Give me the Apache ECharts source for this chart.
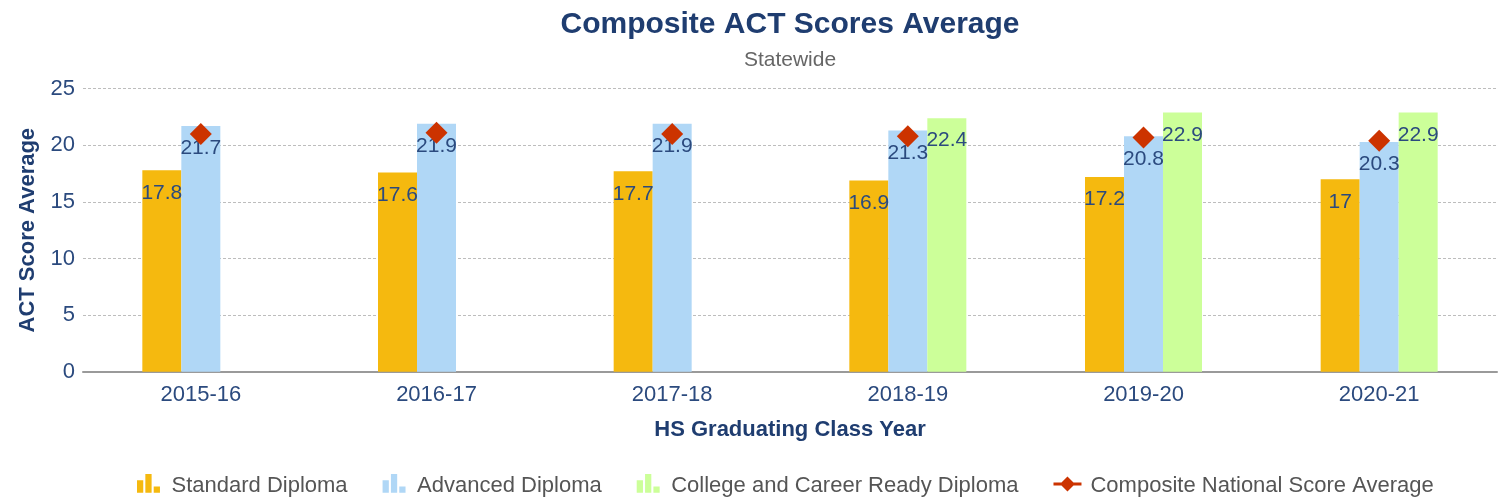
<!DOCTYPE html>
<html>
<head>
<meta charset="utf-8">
<script src="https://cdn.jsdelivr.net/npm/echarts@6/dist/echarts.min.js"></script>
<style>
  html, body { margin: 0; padding: 0; background: #fff; }
  #chart { width: 1503px; height: 501px; }
</style>
</head>
<body>
<div id="chart"></div>
<script>
// data
const years = ['2015-16', '2016-17', '2017-18', '2018-19', '2019-20', '2020-21']
const standardDiploma = [17.8, 17.6, 17.7, 16.9, 17.2, 17]
const advancedDiploma = [21.7, 21.9, 21.9, 21.3, 20.8, 20.3]
const ccrDiploma = [null, null, null, 22.4, 22.9, 22.9]
const nationalAvg = [21.0, 21.1, 21.0, 20.8, 20.7, 20.4]

const font = "'Liberation Sans', Arial, sans-serif"
const navy = '#1f3d70'
// legend icons, with some empty room below so they sit a bit higher than the text
const barIcon = 'path://M0,6h6v12h-6z M8,0h6v18h-6z M16,12h6v6h-6z M0,23'
const diamondIcon = 'path://M0,6h8l6,-6l6,6h8v3h-8l-6,6l-6,-6h-8z M0,19'

const chart = echarts.init(document.getElementById('chart'))

const barLabel = {
  show: true,
  position: 'insideTop',
  distance: 12,
  color: '#2b4a7e',
  fontSize: 21,
  fontFamily: font
}

function barSeries(name, data, color) {
  return {
    name: name,
    type: 'bar',
    data: data,
    barWidth: 39,
    barGap: '0%',
    itemStyle: { color: color },
    label: barLabel,
    z: 2
  }
}

chart.setOption({
  animation: false,
  textStyle: { fontFamily: font },
  title: [
    {
      text: 'Composite ACT Scores Average',
      left: 785,
      textAlign: 'center',
      top: 5,
      textStyle: { color: navy, fontSize: 30, fontWeight: 'bold', fontFamily: font }
    },
    {
      text: 'Statewide',
      left: 785,
      textAlign: 'center',
      top: 45,
      textStyle: { color: '#666', fontSize: 21, fontWeight: 'normal', fontFamily: font }
    }
  ],
  grid: {
    left: 83,
    right: 6,
    top: 88.7,
    bottom: 129.3,
    containLabel: false
  },
  legend: {
    left: 132,
    top: 469,
    itemWidth: 28,
    itemHeight: 24,
    itemGap: 35,
    textStyle: { color: '#555', fontSize: 22, fontFamily: font, padding: [0, 0, 0, 4] },
    data: [
      { name: 'Standard Diploma', icon: barIcon },
      { name: 'Advanced Diploma', icon: barIcon },
      { name: 'College and Career Ready Diploma', icon: barIcon },
      { name: 'Composite National Score Average', icon: diamondIcon }
    ]
  },
  xAxis: {
    type: 'category',
    data: years,
    name: 'HS Graduating Class Year',
    nameLocation: 'middle',
    nameGap: 47,
    nameTextStyle: { color: navy, fontSize: 22, fontWeight: 'bold', fontFamily: font },
    axisLine: { lineStyle: { color: '#9a9a9a', width: 2 } },
    axisTick: { show: false },
    axisLabel: { color: '#2b4a7e', fontSize: 22, margin: 12, fontFamily: font }
  },
  yAxis: {
    type: 'value',
    min: 0,
    max: 25,
    interval: 5,
    name: 'ACT Score Average',
    nameLocation: 'middle',
    nameGap: 44,
    nameTextStyle: { color: navy, fontSize: 22, fontWeight: 'bold', fontFamily: font },
    axisLine: { show: false },
    axisTick: { show: false },
    axisLabel: { color: '#2b4a7e', fontSize: 22, margin: 8, fontFamily: font },
    splitLine: { lineStyle: { color: '#bdbdbd', type: [3, 2], width: 1 } }
  },
  series: [
    barSeries('Standard Diploma', standardDiploma, '#f5b90f'),
    barSeries('Advanced Diploma', advancedDiploma, '#b0d7f6'),
    barSeries('College and Career Ready Diploma', ccrDiploma, '#ccff99'),
    {
      name: 'Composite National Score Average',
      type: 'scatter',
      data: nationalAvg,
      symbol: 'diamond',
      symbolSize: 22,
      itemStyle: { color: '#cc3300', opacity: 1 },
      z: 3
    }
  ]
})
</script>
</body>
</html>
